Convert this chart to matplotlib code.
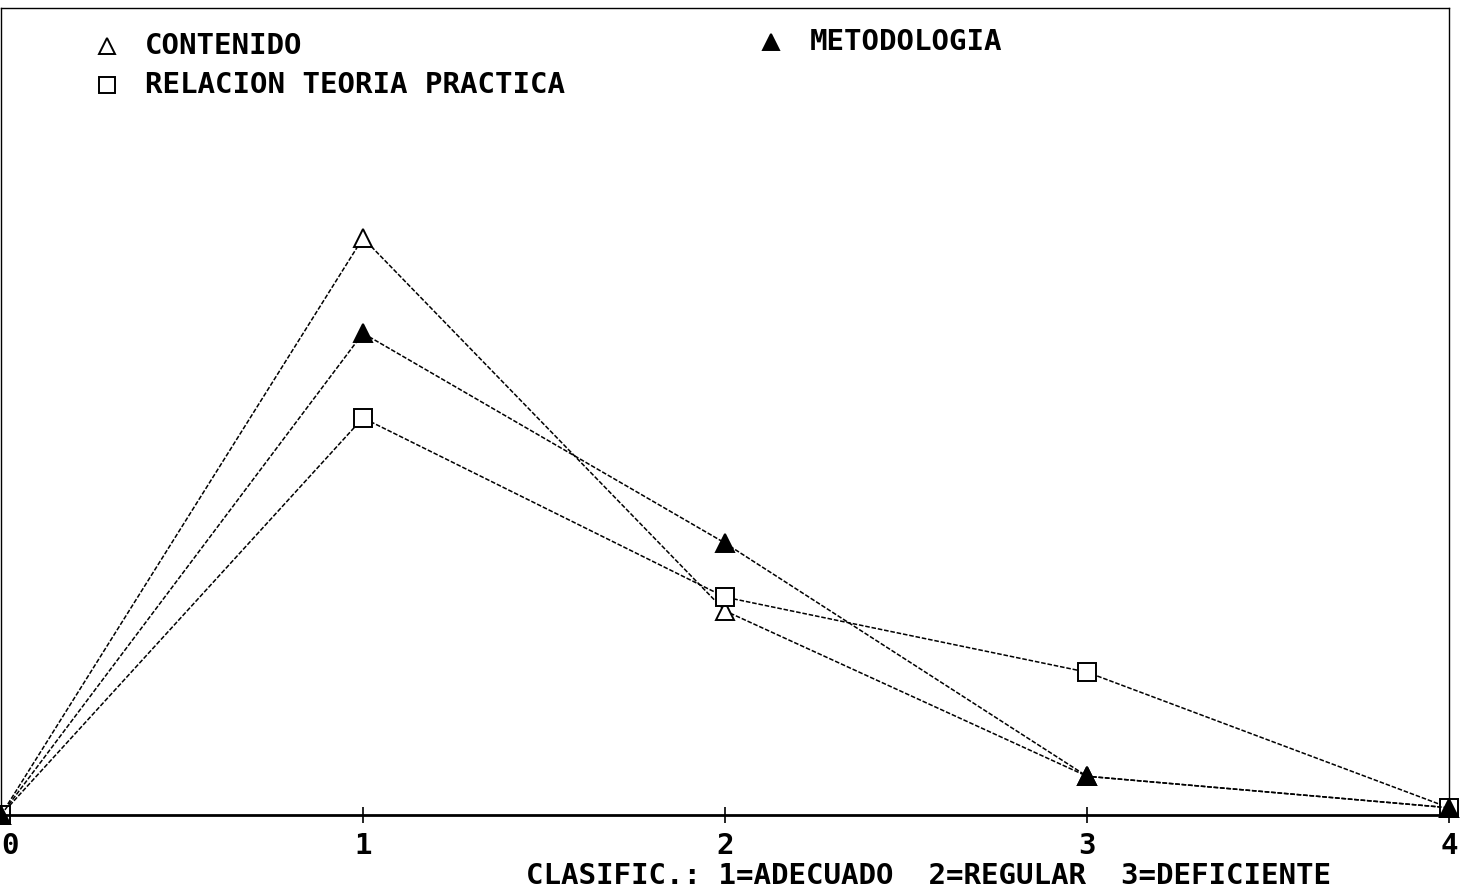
import numpy as np
import matplotlib
matplotlib.use("Agg")
from matplotlib import pyplot as plt
from matplotlib.lines import Line2D

# values (percent of answers per class)
clases = [0, 1, 2, 3, 4]
contenido = [0, 71.5, 25.3, 4.8, 0.9]
metodologia = [0, 59.7, 33.7, 4.8, 0.9]
relacion = [0, 49.2, 27.0, 17.7, 0.9]
tick_labels = ["0", "1", "2", "3", "4"]

series = [
    ("CONTENIDO", contenido, dict(marker="^", mfc="white")),
    ("RELACION TEORIA PRACTICA", relacion, dict(marker="s", mfc="white")),
    ("METODOLOGIA", metodologia, dict(marker="^", mfc="black")),
]

W, H = 1460, 893
fig = plt.figure(figsize=(W / 100, H / 100), dpi=100)
ax = fig.add_axes([1 / W, 1 - 815 / H, 1448 / W, (815 - 8) / H])

font = dict(family="DejaVu Sans Mono", weight="bold", size=21)

for name, vals, st in series:
    ax.plot(clases, vals, color="black", lw=1.1, ls=(0, (3, 1.2)),
            ms=13, mec="black", mew=1.4, clip_on=False, **st)

ax.set_xlim(0, 4)
ax.set_ylim(0, 100)
ax.set_xticks(clases)
ax.set_xticklabels(tick_labels, fontdict=font)
ax.get_xticklabels()[0].set_ha("left")  # keep the 0 inside the picture
ax.set_yticks([])
ax.tick_params(axis="x", direction="inout", length=12, width=1.2, pad=6)
for s in ["top", "right", "left"]:
    ax.spines[s].set_linewidth(1.0)
ax.spines["bottom"].set_linewidth(2.0)

# legend placed like the original (two columns, uneven)
leg = [
    (107, 46, 145, series[0]),
    (107, 85, 145, series[1]),
    (771, 42, 810, series[2]),
]
for mx, my, tx, (name, vals, st) in leg:
    fig.add_artist(Line2D([mx / W], [1 - my / H], transform=fig.transFigure,
                          ls="none", ms=12, mec="black", mew=1.4, color="black", **st))
    fig.text(tx / W, 1 - my / H, name, ha="left", va="center", **font)

fig.text(929 / W, 1 - 876 / H, "CLASIFIC.: 1=ADECUADO  2=REGULAR  3=DEFICIENTE",
         ha="center", va="center", **font)

fig.savefig("out.png", dpi=100)
